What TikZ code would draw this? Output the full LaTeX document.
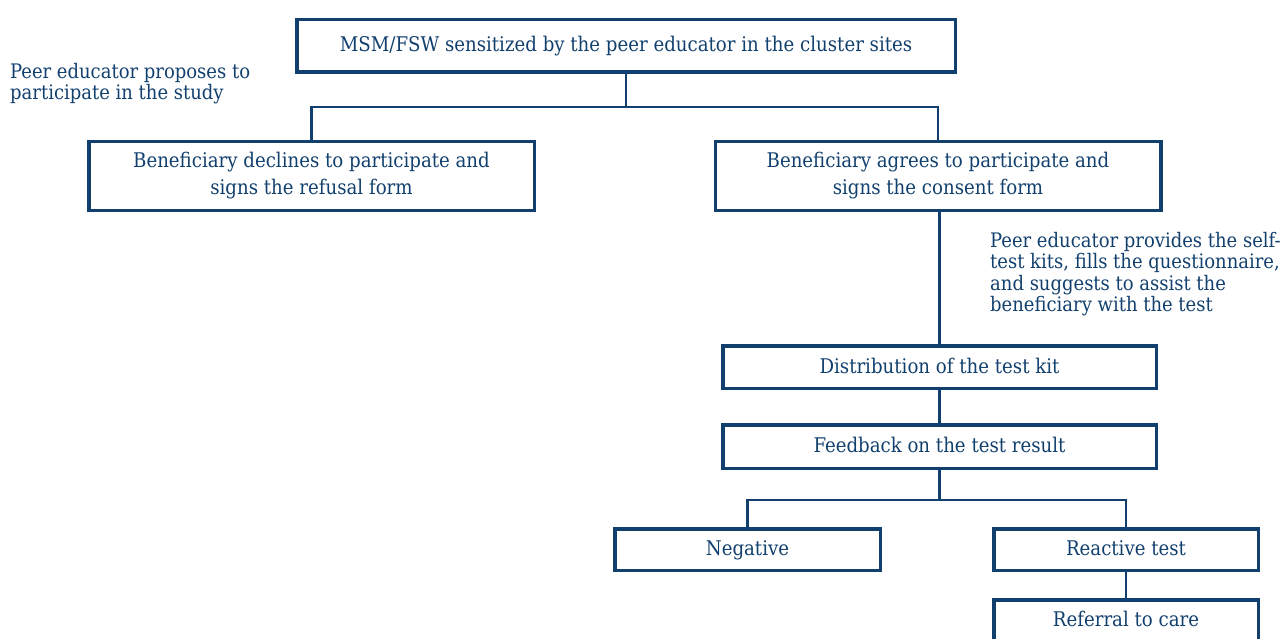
\documentclass[tikz,border=0pt]{standalone}
\usepackage{fontspec}
\setmainfont{DejaVu Serif Condensed}
\definecolor{dblue}{RGB}{18,64,110}
\tikzset{
  box/.style={draw=dblue, line width=3.5pt, fill=white, text=dblue, align=center, inner sep=0pt,
    font=\fontsize{20.2}{27}\selectfont},
  one/.style={text height=16pt, text depth=4pt},
  conn/.style={draw=dblue, line width=2.2pt},
  note/.style={text=dblue, align=left, inner sep=0pt, anchor=north west,
    font=\fontsize{20}{21.5}\selectfont}
}
\begin{document}
\begin{tikzpicture}[x=1pt,y=-1pt]
\useasboundingbox (0,0) rectangle (1284,639);
\clip (0,0) rectangle (1284,639);
\node[box, one, minimum width=658.5pt, minimum height=52.5pt] (top) at (626,46) {MSM/FSW sensitized by the peer educator in the cluster sites};
\node[box, minimum width=445.5pt, minimum height=68.5pt] (decl) at (311.5,176) {Beneficiary declines to participate and\\signs the refusal form};
\node[box, minimum width=445.5pt, minimum height=68.5pt] (agree) at (938,176) {Beneficiary agrees to participate and\\signs the consent form};
\node[box, one, minimum width=433.5pt, minimum height=42.5pt] (dist) at (939.5,367) {Distribution of the test kit};
\node[box, one, minimum width=433.5pt, minimum height=43.5pt] (feed) at (939.5,446.5) {Feedback on the test result};
\node[box, one, minimum width=265.5pt, minimum height=41.5pt] (neg) at (747.5,549.5) {Negative};
\node[box, one, minimum width=264.5pt, minimum height=41.5pt] (react) at (1126,549.5) {Reactive test};
\node[box, one, minimum width=264.5pt, minimum height=41.5pt] (ref) at (1126,620.5) {Referral to care};
\coordinate (j1) at (626,107);
\coordinate (j2) at (939.5,500);
\draw[conn] (top.south) -- (j1);
\draw[conn] (decl.north) |- (j1);
\draw[conn] (agree.north) |- (j1);
\draw[conn] (dist.north) -- (dist.north |- agree.south);
\draw[conn] (dist.south) -- (feed.north);
\draw[conn] (feed.south) -- (j2);
\draw[conn] (neg.north) |- (j2);
\draw[conn] (react.north) |- (j2);
\draw[conn] (react.south) -- (ref.north);
\node[note] (n1) at (10,63) {Peer educator proposes to\\participate in the study};
\node[note] (n2) at (990,232) {Peer educator provides the self-\\test kits, fills the questionnaire,\\and suggests to assist the\\beneficiary with the test};
\end{tikzpicture}
\end{document}
